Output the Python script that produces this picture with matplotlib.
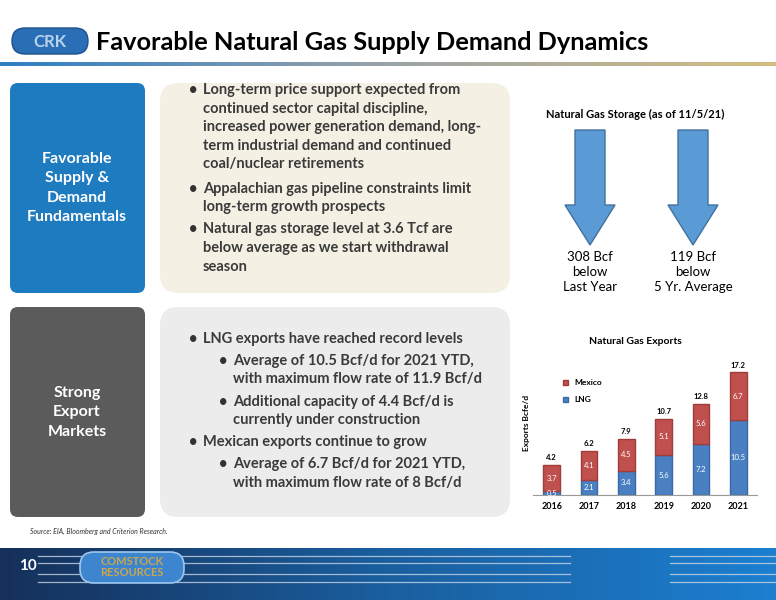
import matplotlib.pyplot as plt
import numpy as np
from matplotlib.patches import FancyBboxPatch, FancyArrow
from matplotlib.colors import LinearSegmentedColormap

plt.rcParams['font.family'] = ['Lato', 'DejaVu Sans']

years = ['2016', '2017', '2018', '2019', '2020', '2021']
lng = [0.5, 2.1, 3.4, 5.6, 7.2, 10.5]
mexico = [3.7, 4.1, 4.5, 5.1, 5.6, 6.7]
totals = [4.2, 6.2, 7.9, 10.7, 12.8, 17.2]

storage_labels = ['308 Bcf\nbelow\nLast Year', '119 Bcf\nbelow\n5 Yr. Average']

supply_bullets = [
    (0, 'Long-term price support expected from\ncontinued sector capital discipline,\nincreased power generation demand, long-\nterm industrial demand and continued\ncoal/nuclear retirements'),
    (0, 'Appalachian gas pipeline constraints limit\nlong-term growth prospects'),
    (0, 'Natural gas storage level at 3.6 Tcf are\nbelow average as we start withdrawal\nseason'),
]
export_bullets = [
    (0, 'LNG exports have reached record levels'),
    (1, 'Average of 10.5 Bcf/d for 2021 YTD,\nwith maximum flow rate of 11.9 Bcf/d'),
    (1, 'Additional capacity of 4.4 Bcf/d is\ncurrently under construction'),
    (0, 'Mexican exports continue to grow'),
    (1, 'Average of 6.7 Bcf/d for 2021 YTD,\nwith maximum flow rate of 8 Bcf/d'),
]

W, H = 776, 600
fig = plt.figure(figsize=(W / 100, H / 100), dpi=100)
bg = fig.add_axes([0, 0, 1, 1])
bg.set_xlim(0, W)
bg.set_ylim(H, 0)
bg.axis('off')

# header
bg.add_patch(FancyBboxPatch((12, 28), 76, 26, boxstyle='round,pad=0,rounding_size=13',
                            fc='#2a6fb5', ec='#1b4f8a', lw=1))
bg.text(50, 42, 'CRK', color='#b9d3ee', ha='center', va='center', fontsize=12, weight='bold')
bg.text(96, 43, 'Favorable Natural Gas Supply Demand Dynamics', fontsize=18.3,
        weight='bold', va='center', color='black')
grad = np.linspace(0, 1, 256).reshape(1, -1)
hcm = LinearSegmentedColormap.from_list('h', ['#2f7fc4', '#9aa3a8', '#d4bd82'])
bg.imshow(grad, cmap=hcm, extent=(0, W, 66, 62), aspect='auto')

# boxes
bg.add_patch(FancyBboxPatch((10, 83), 135, 210, boxstyle='round,pad=0,rounding_size=8',
                            fc='#1f7bc0', ec='none'))
bg.text(77, 188, 'Favorable\nSupply &\nDemand\nFundamentals', color='white', ha='center',
        va='center', fontsize=11.5, weight='bold', linespacing=1.5)
bg.add_patch(FancyBboxPatch((160, 83), 350, 210, boxstyle='round,pad=0,rounding_size=18',
                            fc='#f4f1e4', ec='none'))
bg.add_patch(FancyBboxPatch((10, 307), 135, 210, boxstyle='round,pad=0,rounding_size=8',
                            fc='#5b5b5b', ec='none'))
bg.text(77, 412, 'Strong\nExport\nMarkets', color='white', ha='center',
        va='center', fontsize=11.5, weight='bold', linespacing=1.5)
bg.add_patch(FancyBboxPatch((160, 307), 350, 210, boxstyle='round,pad=0,rounding_size=18',
                            fc='#ececec', ec='none'))

def bullets(items, y0):
    y = y0
    for lvl, txt in items:
        x = 203 + lvl * 30
        bg.text(x - 14, y, '•', fontsize=10.5, weight='bold', va='top', color='#333333')
        bg.text(x, y, txt, fontsize=10.5, weight='bold', va='top', color='#3a3a3a',
                linespacing=1.42)
        y += 19.2 * (txt.count('\n') + 1) + 2.5

bullets(supply_bullets, 83)
bullets(export_bullets, 332)

# storage
bg.text(635, 114, 'Natural Gas Storage (as of 11/5/21)', ha='center', va='center',
        fontsize=8, weight='bold')
for cx, lab in zip([590, 693], storage_labels):
    bg.add_patch(FancyArrow(cx, 130, 0, 115, width=30, head_width=50, head_length=40,
                            length_includes_head=True, fc='#5b9bd5', ec='#41719c', lw=1))
    bg.text(cx, 272, lab, ha='center', va='center', fontsize=9.5, linespacing=1.3)

# footer
bg.text(30, 531, 'Source: EIA, Bloomberg and Criterion Research.', fontsize=5,
        style='italic', va='center', color='#333333')
fcm = LinearSegmentedColormap.from_list('f', ['#15305a', '#1a5f9f', '#1c7fd0'])
bg.imshow(grad, cmap=fcm, extent=(0, W, 600, 548), aspect='auto')
for yy in [556, 563, 574, 582]:
    bg.plot([38, 570], [yy, yy], color='#c9d6e6', lw=0.9, alpha=0.8)
    bg.plot([670, 776], [yy, yy], color='#c9d6e6', lw=0.9, alpha=0.8)
bg.text(28, 566, '10', color='white', fontsize=11, weight='bold', ha='center', va='center')
bg.add_patch(FancyBboxPatch((80, 552), 104, 31, boxstyle='round,pad=0,rounding_size=14',
                            fc='#3d86cf', ec='#9cc7ee', lw=1.2, zorder=3))
bg.text(132, 567, 'COMSTOCK\nRESOURCES', color='#c9a64f', ha='center', va='center',
        fontsize=8, weight='bold', linespacing=0.9, zorder=4)

# exports chart
ax = fig.add_axes([533 / W, 1 - 495 / H, 224 / W, 145 / H])
x = np.arange(len(years))
ax.bar(x, lng, width=0.45, color='#4a7fc1', edgecolor='#3a6aa6', label='LNG')
ax.bar(x, mexico, width=0.45, bottom=lng, color='#c0504d', edgecolor='#a03c3a', label='Mexico')
for i in range(len(years)):
    ax.text(x[i], lng[i] / 2, f'{lng[i]}', ha='center', va='center', fontsize=5.5, color='white')
    ax.text(x[i], lng[i] + mexico[i] / 2, f'{mexico[i]}', ha='center', va='center',
            fontsize=5.5, color='white')
    ax.text(x[i], totals[i] + 0.5, f'{totals[i]}', ha='center', va='bottom', fontsize=5.5,
            weight='bold')
ax.set_xlim(-0.5, 5.5)
ax.set_ylim(0, 20.3)
ax.set_xticks(x)
ax.set_xticklabels(years, fontsize=6.5, weight='bold')
ax.set_yticks([])
for s in ['top', 'right', 'left']:
    ax.spines[s].set_visible(False)
ax.spines['bottom'].set_color('#999999')
ax.tick_params(axis='x', length=0, pad=5)
ax.set_ylabel('Exports Bcfe/d', fontsize=6, weight='bold', labelpad=2)
h, l = ax.get_legend_handles_labels()
ax.legend(h[::-1], l[::-1], loc='upper left', bbox_to_anchor=(0.1, 0.85), frameon=False,
          handlelength=0.6, handleheight=0.6, labelspacing=1.2,
          prop={'weight': 'bold', 'size': 6})
bg.text(635, 341, 'Natural Gas Exports', ha='center', va='center', fontsize=7.5, weight='bold')

fig.savefig('out.png', dpi=100)
